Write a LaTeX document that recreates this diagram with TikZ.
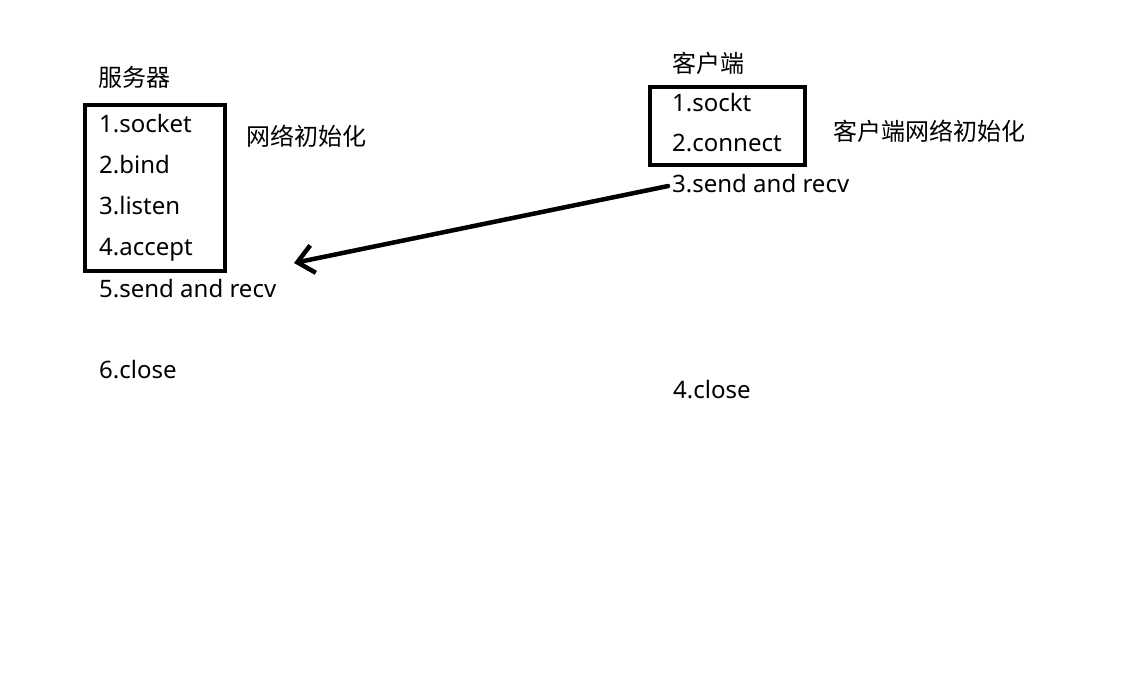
\documentclass[tikz,border=0pt]{standalone}
\usepackage{fontspec}
\setmainfont{Noto Sans}
\newfontfamily\cjk{Noto Sans CJK SC}
\usetikzlibrary{arrows.meta, positioning}

\tikzset{
	txt/.style = {inner sep = 0pt, anchor = base west, font = \fontsize{24}{28}\selectfont},
	cn/.style = {txt, font = \fontsize{24}{28}\selectfont\cjk},
	frame/.style = {draw, line width = 4pt, inner sep = 0pt}
}

\begin{document}
\begin{tikzpicture}[x = 1pt, y = -1pt]
		\useasboundingbox (0,0) rectangle (1121,675);
		% server side
		\draw (155,188) node[frame, minimum width = 140pt, minimum height = 166pt] (sbox) {}
		(98,86) node[cn] (stitle) {服务器}
		(99,132) node[txt] (s1) {1.socket}
		(99,173) node[txt] (s2) {2.bind}
		(99,214) node[txt] (s3) {3.listen}
		(99,255) node[txt] (s4) {4.accept}
		(99,297) node[txt] (s5) {5.send and recv}
		(99,378) node[txt] (s6) {6.close}
		(246,145) node[cn] (sinit) {网络初始化};
		
		% client side
		\draw (727.5,126) node[frame, minimum width = 155pt, minimum height = 78pt] (cbox) {}
		(672,72) node[cn] (ctitle) {客户端}
		(672,111) node[txt] (c1) {1.sockt}
		(672,151) node[txt] (c2) {2.connect}
		(672,192) node[txt] (c3) {3.send and recv}
		(673,398) node[txt] (c4) {4.close}
		(833,140) node[cn] (cinit) {客户端网络初始化};
		
		\coordinate (tip) at (294,263);
		\draw[line width = 4.5pt, line cap = round, -{Straight Barb[length = 16pt, width = 28pt, line width = 4.5pt]}] ([xshift = -4pt, yshift = -3pt]c3.west) -- (tip);
	\end{tikzpicture}
\end{document}
